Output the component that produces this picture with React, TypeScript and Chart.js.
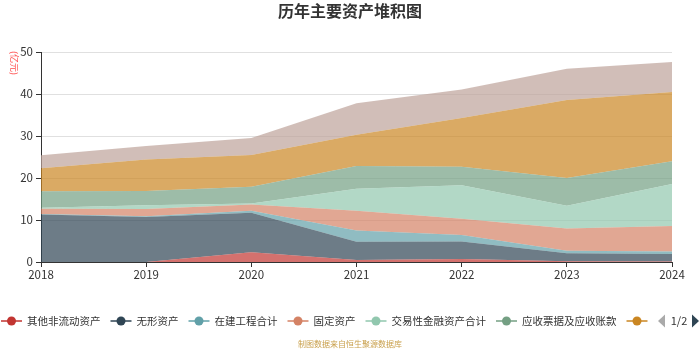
import React, { useEffect, useRef } from "react";
import { Chart, registerables } from "chart.js";

Chart.register(...registerables);

const years = ["2018", "2019", "2020", "2021", "2022", "2023", "2024"];
const seriesNames = [
  "其他非流动资产",
  "无形资产",
  "在建工程合计",
  "固定资产",
  "交易性金融资产合计",
  "应收票据及应收账款",
  "货币资金",
  "存货",
];
const otherNonCurrent = [0, 0, 2.3, 0.5, 0.7, 0.2, 0.1];
const intangible = [11.3, 10.7, 9.4, 4.3, 4.2, 1.9, 1.8];
const construction = [0.1, 0.2, 0.5, 2.7, 1.5, 0.6, 0.6];
const fixedAssets = [1.3, 1.7, 1.5, 4.7, 3.9, 5.3, 6.1];
const tradingFinancial = [0.2, 0.9, 0.2, 5.25, 8.0, 5.4, 10.0];
const receivables = [3.95, 3.4, 4.0, 5.4, 4.4, 6.6, 5.4];
const cash = [5.45, 7.5, 7.6, 7.45, 11.6, 18.6, 16.5];
const inventory = [3.1, 3.2, 4.0, 7.5, 6.8, 7.4, 7.1];
const yTicks = [0, 10, 20, 30, 40, 50];

const seriesValues = [
  otherNonCurrent,
  intangible,
  construction,
  fixedAssets,
  tradingFinancial,
  receivables,
  cash,
  inventory,
];
const colors = [
  [194, 53, 49],
  [47, 69, 84],
  [97, 160, 168],
  [212, 130, 101],
  [145, 199, 174],
  [116, 159, 131],
  [202, 134, 34],
  [189, 162, 154],
];

const FONT = '"Noto Sans CJK SC", "Noto Sans", sans-serif';

const overlayPlugin = {
  id: "overlay",
  afterDraw(chart: any) {
    const ctx = chart.ctx as CanvasRenderingContext2D;
    ctx.save();
    // title
    ctx.fillStyle = "#333";
    ctx.font = `bold 16px ${FONT}`;
    ctx.textAlign = "center";
    ctx.textBaseline = "middle";
    ctx.fillText("历年主要资产堆积图", 350, 11);

    // unit label
    ctx.save();
    ctx.translate(14, 63);
    ctx.rotate(Math.PI / 2);
    ctx.fillStyle = "#ff4d4d";
    ctx.font = `9px ${FONT}`;
    ctx.textAlign = "center";
    ctx.textBaseline = "middle";
    ctx.fillText("(亿元)", 0, 0);
    ctx.restore();

    // legend (page 1 of 2)
    const ly = 321;
    let x = 1;
    ctx.font = `10.5px ${FONT}`;
    ctx.textAlign = "left";
    ctx.textBaseline = "middle";
    for (let i = 0; i < 7; i++) {
      const c = colors[i];
      const col = `rgb(${c[0]},${c[1]},${c[2]})`;
      ctx.strokeStyle = col;
      ctx.lineWidth = 1.5;
      ctx.beginPath();
      ctx.moveTo(x, ly);
      ctx.lineTo(x + 21, ly);
      ctx.stroke();
      ctx.fillStyle = col;
      ctx.beginPath();
      ctx.arc(x + 10.5, ly, 4.5, 0, Math.PI * 2);
      ctx.fill();
      if (i < 6) {
        ctx.fillStyle = "#333";
        ctx.fillText(seriesNames[i], x + 26, ly);
        x += 26 + ctx.measureText(seriesNames[i]).width + 10;
      }
    }
    // pager
    ctx.fillStyle = "#aaa";
    ctx.beginPath();
    ctx.moveTo(658, ly);
    ctx.lineTo(665, ly - 6.5);
    ctx.lineTo(665, ly + 6.5);
    ctx.closePath();
    ctx.fill();
    ctx.fillStyle = "#333";
    ctx.font = `11px ${FONT}`;
    ctx.textAlign = "center";
    ctx.fillText("1/2", 679, ly);
    ctx.fillStyle = "#2f4554";
    ctx.beginPath();
    ctx.moveTo(699, ly);
    ctx.lineTo(692, ly - 6.5);
    ctx.lineTo(692, ly + 6.5);
    ctx.closePath();
    ctx.fill();

    // footer
    ctx.fillStyle = "#c9a04c";
    ctx.font = `8px ${FONT}`;
    ctx.textAlign = "center";
    ctx.fillText("制图数据来自恒生聚源数据库", 350, 344);
    ctx.restore();
  },
};

export default function App() {
  const ref = useRef<HTMLCanvasElement | null>(null);
  useEffect(() => {
    if (!ref.current) return;
    const chart = new Chart(ref.current, {
      type: "line",
      data: {
        labels: years,
        datasets: seriesValues.map((vals, i) => ({
          label: seriesNames[i],
          data: vals,
          backgroundColor: `rgba(${colors[i][0]},${colors[i][1]},${colors[i][2]},0.7)`,
          borderColor: "rgba(0,0,0,0)",
          borderWidth: 0,
          pointRadius: 0,
          pointHoverRadius: 0,
          fill: i === 0 ? "origin" : "-1",
          tension: 0,
        })),
      },
      options: {
        responsive: false,
        animation: false,
        layout: { padding: { top: 52, right: 28, left: 0, bottom: 0 } },
        plugins: {
          legend: { display: false },
          title: { display: false },
          tooltip: { enabled: false },
        },
        scales: {
          x: {
            offset: false,
            afterFit: (s: any) => {
              s.height = 88;
            },
            grid: {
              drawOnChartArea: false,
              drawTicks: true,
              tickLength: 5,
              tickColor: "#333",
            },
            border: { color: "#333", width: 1 },
            ticks: {
              autoSkip: false,
              maxRotation: 0,
              padding: 1,
              color: "#333",
              font: { size: 11.5, family: FONT },
            },
          },
          y: {
            stacked: true,
            min: 0,
            max: 50,
            afterFit: (s: any) => {
              s.width = 41;
            },
            afterBuildTicks: (s: any) => {
              s.ticks = yTicks.map((v) => ({ value: v }));
            },
            grid: {
              color: "#e0e0e0",
              tickColor: "#333",
              tickLength: 5,
              drawTicks: true,
            },
            border: { color: "#333", width: 1 },
            ticks: {
              padding: 3,
              color: "#333",
              font: { size: 11.5, family: FONT },
            },
          },
        },
      },
      plugins: [overlayPlugin],
    });
    return () => chart.destroy();
  }, []);
  return (
    <div style={{ position: "absolute", left: 0, top: 0, width: 700, height: 350 }}>
      <canvas ref={ref} width={700} height={350} style={{ display: "block" }} />
    </div>
  );
}
